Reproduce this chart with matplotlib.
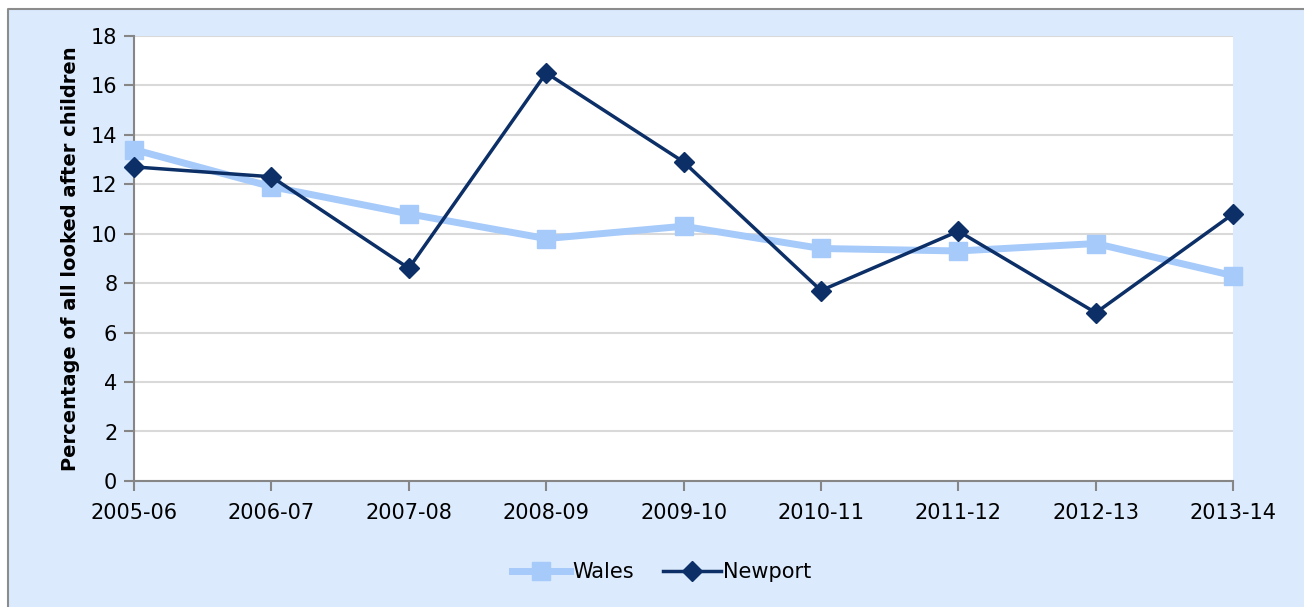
import matplotlib.pyplot as plt
from matplotlib.patches import Rectangle
from matplotlib.lines import Line2D

years = ['2005-06', '2006-07', '2007-08', '2008-09', '2009-10',
         '2010-11', '2011-12', '2012-13', '2013-14']
wales = [13.4, 11.9, 10.8, 9.8, 10.3, 9.4, 9.3, 9.6, 8.3]
newport = [12.7, 12.3, 8.6, 16.5, 12.9, 7.7, 10.1, 6.8, 10.8]

fig = plt.figure(figsize=(13.042, 6.072), dpi=100, facecolor='white')

# light blue chart area, grey frame only on top and left
x0, y0 = 8 / 1304, 1 - 9 / 607
fig.patches.append(Rectangle((x0, 0), 1 - x0, y0, transform=fig.transFigure,
                             facecolor='#DBEAFD', edgecolor='none', zorder=-5))
fig.lines.append(Line2D([x0, x0, 1], [0, y0, y0], transform=fig.transFigure,
                        color='#8C8C8C', linewidth=1.5, zorder=-4))

ax = fig.add_axes([134 / 1304, 1 - 481 / 607, (1233 - 134) / 1304, (481 - 36) / 607])
ax.set_facecolor('white')

x = range(len(years))
ax.plot(x, wales, color='#A6CAFA', linewidth=5, marker='s', markersize=13,
        label='Wales', zorder=3, clip_on=False)
ax.plot(x, newport, color='#0B2F66', linewidth=2.5, marker='D', markersize=10,
        label='Newport', zorder=4, clip_on=False)

ax.set_xlim(0, len(years) - 1)
ax.set_ylim(0, 18)
ax.set_yticks(range(0, 19, 2))
ax.set_xticks(list(x))
ax.set_xticklabels(years)
ax.yaxis.grid(True, color='#D9D9D9', linewidth=1.5)
ax.set_axisbelow(True)

for s in ['top', 'right']:
    ax.spines[s].set_visible(False)
for s in ['left', 'bottom']:
    ax.spines[s].set_color('#868686')
    ax.spines[s].set_linewidth(1.5)

ax.tick_params(axis='both', direction='out', length=7, width=1.5,
               color='#868686', labelsize=15, labelcolor='black')
ax.tick_params(axis='x', pad=9)
ax.tick_params(axis='y', pad=5)

ax.set_ylabel('Percentage of all looked after children', fontsize=14,
              fontweight='bold', labelpad=8)

ax.legend(loc='center', bbox_to_anchor=(0.48, -0.205), ncol=2, frameon=False,
          fontsize=15, handlelength=2.8, handletextpad=0.1, columnspacing=1.4)

fig.savefig('out.png', dpi=100, facecolor=fig.get_facecolor())
